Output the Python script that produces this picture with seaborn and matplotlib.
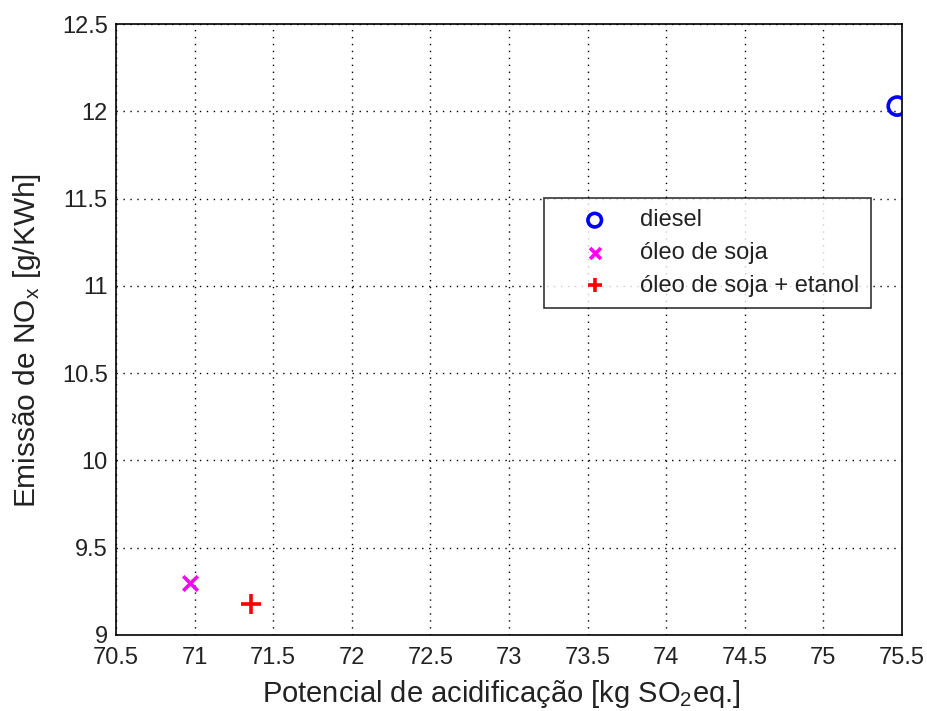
import matplotlib
matplotlib.use("Agg")
import matplotlib.pyplot as plt
import seaborn as sns
import pandas as pd

# Emissions data per fuel
fuels = ["diesel", "óleo de soja", "óleo de soja + etanol"]
acidification = [75.47, 70.97, 71.36]
nox = [12.03, 9.30, 9.18]
colors = ["#0000ff", "#ff00ff", "#ff0000"]
markers = ["o", "x", "+"]

x_ticks = [70.5, 71, 71.5, 72, 72.5, 73, 73.5, 74, 74.5, 75, 75.5]
y_ticks = [9, 9.5, 10, 10.5, 11, 11.5, 12, 12.5]

df = pd.DataFrame({"fuel": fuels, "acid": acidification, "nox": nox})

sns.set_style("white")
plt.rcParams["font.family"] = ["Liberation Sans", "DejaVu Sans"]
plt.rcParams["mathtext.default"] = "regular"

fig = plt.figure(figsize=(9.27, 7.11), dpi=100)
ax = fig.add_axes([0.1251, 0.1069, 0.8479, 0.8593])

sizes = {"o": 170, "x": 110, "+": 190}
for fuel, c, m in zip(fuels, colors, markers):
    sub = df[df["fuel"] == fuel]
    if m == "o":
        sns.scatterplot(data=sub, x="acid", y="nox", ax=ax, marker=m, s=sizes[m],
                        facecolors="none", edgecolor=c, linewidth=2.6, label=fuel)
    else:
        sns.scatterplot(data=sub, x="acid", y="nox", ax=ax, marker=m, s=sizes[m],
                        color=c, linewidth=2.6, label=fuel)

ax.set_xlim(70.5, 75.5)
ax.set_ylim(9, 12.5)
ax.set_xticks(x_ticks)
ax.set_yticks(y_ticks)
ax.set_xticklabels([f"{v:g}" for v in x_ticks])
ax.set_yticklabels([f"{v:g}" for v in y_ticks])

ax.grid(True, color="black", linestyle=(0, (1, 4)), linewidth=1.0)
ax.set_axisbelow(True)
ax.tick_params(direction="in", length=6, width=1, colors="black",
               labelsize=17, top=False, right=False)
ax.tick_params(axis="x", pad=9)
ax.tick_params(axis="y", pad=6)
for sp in ax.spines.values():
    sp.set_color("black")
    sp.set_linewidth(1.2)
    sp.set_visible(True)
for lab in ax.get_xticklabels() + ax.get_yticklabels():
    lab.set_color("#222222")

ax.set_xlabel("Potencial de acidificação [kg SO$_2$eq.]", fontsize=21, color="#222222", labelpad=3)
ax.set_ylabel("Emissão de NO$_x$ [g/KWh]", fontsize=21.5, color="#222222", labelpad=6)
ax.xaxis.set_label_coords(0.49, -0.07)
ax.yaxis.set_label_coords(-0.093, 0.482)

leg = ax.legend(loc="upper left", bbox_to_anchor=(0.5445, 0.716), fontsize=17,
                frameon=True, fancybox=False, shadow=False, borderpad=0.5,
                handletextpad=0.25, labelspacing=0.45, handlelength=3.3,
                markerscale=0.75, borderaxespad=0)
leg.get_frame().set_edgecolor("black")
leg.get_frame().set_linewidth(1.2)
for t in leg.get_texts():
    t.set_color("#222222")

fig.savefig("out.png", dpi=100, facecolor="white")
